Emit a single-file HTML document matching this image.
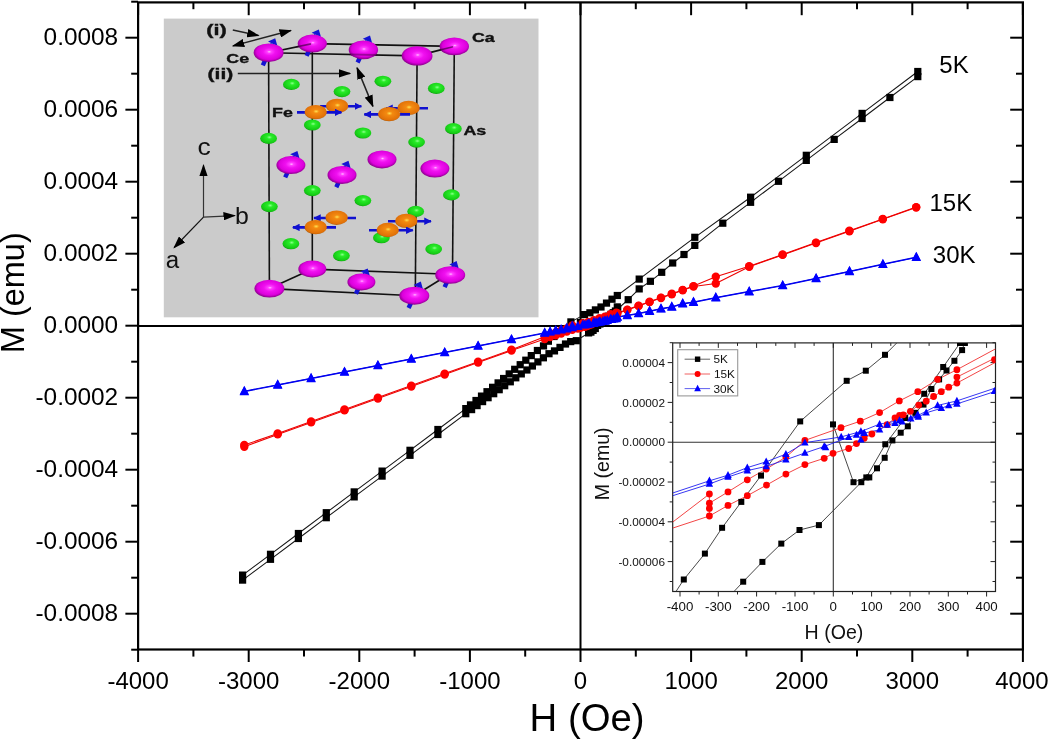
<!DOCTYPE html><html><head><meta charset="utf-8"><style>html,body{margin:0;padding:0;background:#fff;}svg{display:block;will-change:transform;}</style></head><body>
<svg width="1050" height="740" viewBox="0 0 1050 740">
<rect width="1050" height="740" fill="#fff"/>
<defs>
<radialGradient id="gm" cx="0.52" cy="0.45" r="0.58"><stop offset="0" stop-color="#ffc0ff"/><stop offset="0.12" stop-color="#ff40ff"/><stop offset="0.35" stop-color="#f010f0"/><stop offset="0.72" stop-color="#dc00dc"/><stop offset="0.86" stop-color="#a800a8"/><stop offset="1" stop-color="#780078"/></radialGradient>
<radialGradient id="gg" cx="0.55" cy="0.4" r="0.62"><stop offset="0" stop-color="#90ff90"/><stop offset="0.25" stop-color="#28ec28"/><stop offset="0.85" stop-color="#14c814"/><stop offset="1" stop-color="#0a8a0a"/></radialGradient>
<radialGradient id="go" cx="0.52" cy="0.45" r="0.6"><stop offset="0" stop-color="#ffe050"/><stop offset="0.22" stop-color="#f48a10"/><stop offset="0.8" stop-color="#e07008"/><stop offset="1" stop-color="#8a4a00"/></radialGradient>
<marker id="ah" viewBox="0 0 10 10" preserveAspectRatio="none" refX="9" refY="5" markerWidth="12.5" markerHeight="8.5" markerUnits="userSpaceOnUse" orient="auto-start-reverse"><path d="M0,0 L10,5 L0,10 z" fill="#000"/></marker>
<marker id="ahb" viewBox="0 0 10 10" preserveAspectRatio="none" refX="9" refY="5" markerWidth="7.5" markerHeight="7.5" markerUnits="userSpaceOnUse" orient="auto-start-reverse"><path d="M0,0 L10,5 L0,10 z" fill="#1010d0"/></marker>
<marker id="ahs" viewBox="0 0 10 10" preserveAspectRatio="none" refX="8" refY="5" markerWidth="5.5" markerHeight="11" markerUnits="userSpaceOnUse" orient="auto"><path d="M0,0 L10,5 L0,10 z" fill="#1818d8"/></marker>
</defs>
<rect x="163.8" y="18.6" width="374.7" height="298.7" fill="#cbcbcb"/>
<line x1="268.6" y1="52.7" x2="269.4" y2="288.6" stroke="#111" stroke-width="1.6"/>
<line x1="312.3" y1="43.6" x2="312.3" y2="269.1" stroke="#111" stroke-width="1.6"/>
<line x1="417.1" y1="55.9" x2="415.3" y2="295.7" stroke="#111" stroke-width="1.6"/>
<line x1="454.3" y1="46.4" x2="452.5" y2="274.3" stroke="#111" stroke-width="1.6"/>
<line x1="268.6" y1="52.7" x2="312.3" y2="43.6" stroke="#111" stroke-width="1.6"/>
<line x1="312.3" y1="43.6" x2="454.3" y2="46.4" stroke="#111" stroke-width="1.6"/>
<line x1="268.6" y1="52.7" x2="417.1" y2="55.9" stroke="#111" stroke-width="1.6"/>
<line x1="417.1" y1="55.9" x2="454.3" y2="46.4" stroke="#111" stroke-width="1.6"/>
<line x1="269.4" y1="288.6" x2="312.3" y2="269.1" stroke="#111" stroke-width="1.6"/>
<line x1="312.3" y1="269.1" x2="450" y2="274.3" stroke="#111" stroke-width="1.6"/>
<line x1="269.4" y1="288.6" x2="414.3" y2="295.7" stroke="#111" stroke-width="1.6"/>
<line x1="414.3" y1="295.7" x2="449.1" y2="274.3" stroke="#111" stroke-width="1.6"/>
<line x1="232.8" y1="30.1" x2="258.4" y2="35.5" stroke="#222" stroke-width="1.5" marker-end="url(#ah)"/>
<line x1="233" y1="45.9" x2="290.8" y2="30.5" stroke="#222" stroke-width="1.5" marker-start="url(#ah)" marker-end="url(#ah)"/>
<line x1="237.8" y1="73.4" x2="350" y2="73.4" stroke="#222" stroke-width="1.5" marker-end="url(#ah)"/>
<line x1="357.1" y1="67.9" x2="372.9" y2="106.4" stroke="#222" stroke-width="1.5" marker-start="url(#ah)" marker-end="url(#ah)"/>
<line x1="203.5" y1="217.2" x2="203.5" y2="165.2" stroke="#333" stroke-width="1.2" marker-end="url(#ah)"/>
<line x1="203.5" y1="217.2" x2="234.7" y2="215.6" stroke="#333" stroke-width="1.2" marker-end="url(#ah)"/>
<line x1="203.5" y1="217.2" x2="174.2" y2="247.5" stroke="#111" stroke-width="1.2" marker-end="url(#ah)"/>
<line x1="306.6" y1="55.9" x2="316.3" y2="35.0" stroke="#1414d4" stroke-width="4.4"/>
<path d="M321.0,37.1 L318.8,29.5 L311.6,32.8 Z" fill="#1414d4"/>
<ellipse cx="312.3" cy="43.6" rx="14.6" ry="9" fill="url(#gm)"/>
<ellipse cx="454.3" cy="46.4" rx="14.7" ry="8.9" fill="url(#gm)"/>
<line x1="357.6" y1="62.5" x2="367.5" y2="41.0" stroke="#1414d4" stroke-width="4.4"/>
<path d="M372.2,43.2 L370.0,35.5 L362.8,38.8 Z" fill="#1414d4"/>
<ellipse cx="363.4" cy="49.9" rx="14.7" ry="9.3" fill="url(#gm)"/>
<line x1="262.8" y1="65.3" x2="272.7" y2="43.8" stroke="#1414d4" stroke-width="4.4"/>
<path d="M277.4,46.0 L275.2,38.3 L268.0,41.6 Z" fill="#1414d4"/>
<ellipse cx="268.6" cy="52.7" rx="15" ry="9.3" fill="url(#gm)"/>
<ellipse cx="417.1" cy="55.9" rx="15.4" ry="9.7" fill="url(#gm)"/>
<ellipse cx="382.9" cy="81.3" rx="8.4" ry="5.6" fill="url(#gg)"/>
<ellipse cx="291.4" cy="84.4" rx="8.4" ry="5.6" fill="url(#gg)"/>
<ellipse cx="436.3" cy="88.4" rx="8.4" ry="5.6" fill="url(#gg)"/>
<ellipse cx="342" cy="91.6" rx="8.4" ry="5.6" fill="url(#gg)"/>
<ellipse cx="312.3" cy="125" rx="8.4" ry="5.6" fill="url(#gg)"/>
<ellipse cx="453.4" cy="128.7" rx="8.4" ry="5.6" fill="url(#gg)"/>
<ellipse cx="362.9" cy="133" rx="8.4" ry="5.6" fill="url(#gg)"/>
<ellipse cx="268.6" cy="138.4" rx="8.4" ry="5.6" fill="url(#gg)"/>
<ellipse cx="416.6" cy="142.1" rx="8.4" ry="5.6" fill="url(#gg)"/>
<ellipse cx="382" cy="159.4" rx="14.5" ry="9" fill="url(#gm)"/>
<line x1="285.2" y1="177.4" x2="294.9" y2="156.5" stroke="#1414d4" stroke-width="4.4"/>
<path d="M299.6,158.6 L297.4,151.0 L290.2,154.3 Z" fill="#1414d4"/>
<ellipse cx="290.9" cy="165.1" rx="14.5" ry="9" fill="url(#gm)"/>
<ellipse cx="434.9" cy="168.6" rx="14.5" ry="9" fill="url(#gm)"/>
<line x1="336.3" y1="187.2" x2="346.0" y2="166.3" stroke="#1414d4" stroke-width="4.4"/>
<path d="M350.7,168.4 L348.5,160.8 L341.3,164.1 Z" fill="#1414d4"/>
<ellipse cx="342" cy="174.9" rx="14.5" ry="9" fill="url(#gm)"/>
<ellipse cx="312.3" cy="190.6" rx="8.4" ry="5.6" fill="url(#gg)"/>
<ellipse cx="451.4" cy="194.9" rx="8.4" ry="5.6" fill="url(#gg)"/>
<ellipse cx="362.9" cy="200.6" rx="8.4" ry="5.6" fill="url(#gg)"/>
<ellipse cx="269.4" cy="206.6" rx="8.4" ry="5.6" fill="url(#gg)"/>
<ellipse cx="415.7" cy="211.4" rx="8.4" ry="5.6" fill="url(#gg)"/>
<ellipse cx="381.4" cy="237.7" rx="8.4" ry="5.6" fill="url(#gg)"/>
<ellipse cx="290.9" cy="243.7" rx="8.4" ry="5.6" fill="url(#gg)"/>
<ellipse cx="433.7" cy="249.1" rx="8.4" ry="5.6" fill="url(#gg)"/>
<ellipse cx="341.4" cy="255.7" rx="8.4" ry="5.6" fill="url(#gg)"/>
<ellipse cx="312.3" cy="269.1" rx="14" ry="8.5" fill="url(#gm)"/>
<line x1="444.6" y1="287.1" x2="454.1" y2="266.5" stroke="#1414d4" stroke-width="4.4"/>
<path d="M458.8,268.7 L456.6,261.1 L449.4,264.4 Z" fill="#1414d4"/>
<ellipse cx="450.2" cy="275" rx="15" ry="8.8" fill="url(#gm)"/>
<line x1="355.9" y1="293.8" x2="365.2" y2="273.8" stroke="#1414d4" stroke-width="4.4"/>
<path d="M369.9,276.0 L367.7,268.4 L360.4,271.6 Z" fill="#1414d4"/>
<ellipse cx="361.4" cy="282" rx="14" ry="8.5" fill="url(#gm)"/>
<ellipse cx="269.4" cy="288.6" rx="15" ry="8.9" fill="url(#gm)"/>
<line x1="408.6" y1="308.0" x2="418.3" y2="287.1" stroke="#1414d4" stroke-width="4.4"/>
<path d="M423.0,289.2 L420.8,281.6 L413.6,284.9 Z" fill="#1414d4"/>
<ellipse cx="414.3" cy="295.7" rx="15" ry="9" fill="url(#gm)"/>
<line x1="320" y1="106.2" x2="361.4" y2="106.2" stroke="#1010d0" stroke-width="2.6" marker-end="url(#ahb)"/>
<ellipse cx="337.1" cy="105.9" rx="11.2" ry="7.2" fill="url(#go)"/>
<line x1="428" y1="108.2" x2="386" y2="108.2" stroke="#1010d0" stroke-width="2.6" marker-end="url(#ahb)"/>
<ellipse cx="408.6" cy="107.9" rx="11.2" ry="7.2" fill="url(#go)"/>
<line x1="297" y1="112.39999999999999" x2="341.4" y2="112.39999999999999" stroke="#1010d0" stroke-width="2.6" marker-end="url(#ahb)"/>
<ellipse cx="315.7" cy="112.1" rx="11.2" ry="7.2" fill="url(#go)"/>
<line x1="410" y1="114.39999999999999" x2="364.3" y2="114.39999999999999" stroke="#1010d0" stroke-width="2.6" marker-end="url(#ahb)"/>
<ellipse cx="389.1" cy="114.1" rx="11.2" ry="7.2" fill="url(#go)"/>
<line x1="356" y1="218.0" x2="314" y2="218.0" stroke="#1010d0" stroke-width="2.6" marker-end="url(#ahb)"/>
<ellipse cx="336.6" cy="217.7" rx="11.2" ry="7.2" fill="url(#go)"/>
<line x1="388" y1="221.20000000000002" x2="431" y2="221.20000000000002" stroke="#1010d0" stroke-width="2.6" marker-end="url(#ahb)"/>
<ellipse cx="406.3" cy="220.9" rx="11.2" ry="7.2" fill="url(#go)"/>
<line x1="336" y1="227.4" x2="292.9" y2="227.4" stroke="#1010d0" stroke-width="2.6" marker-end="url(#ahb)"/>
<ellipse cx="315.7" cy="227.1" rx="11.2" ry="7.2" fill="url(#go)"/>
<line x1="369" y1="230.3" x2="412.8" y2="230.3" stroke="#1010d0" stroke-width="2.6" marker-end="url(#ahb)"/>
<ellipse cx="387.7" cy="230" rx="11.2" ry="7.2" fill="url(#go)"/>
<line x1="349.5" y1="54.4" x2="377.5" y2="55.0" stroke="#300030" stroke-width="1.8" stroke-opacity="0.4"/>
<line x1="296" y1="47" x2="311" y2="43.9" stroke="#300030" stroke-width="1.6" stroke-opacity="0.6"/>
<line x1="440" y1="50" x2="453" y2="46.7" stroke="#300030" stroke-width="1.6" stroke-opacity="0.6"/>
<text transform="translate(206.3,35.0) scale(1.5,1)" font-family="Liberation Sans, sans-serif" font-weight="bold" font-size="14.5" fill="#111" stroke="#111" stroke-width="0.35">(i)</text>
<text transform="translate(207.6,78.6) scale(1.45,1)" font-family="Liberation Sans, sans-serif" font-weight="bold" font-size="14.5" fill="#111" stroke="#111" stroke-width="0.35">(ii)</text>
<text transform="translate(226.3,62.9) scale(1.45,1)" font-family="Liberation Sans, sans-serif" font-weight="bold" font-size="12.3" fill="#111" stroke="#111" stroke-width="0.35">Ce</text>
<text transform="translate(272.0,117.2) scale(1.45,1)" font-family="Liberation Sans, sans-serif" font-weight="bold" font-size="12.3" fill="#111" stroke="#111" stroke-width="0.35">Fe</text>
<text transform="translate(472.0,42.1) scale(1.45,1)" font-family="Liberation Sans, sans-serif" font-weight="bold" font-size="12.3" fill="#111" stroke="#111" stroke-width="0.35">Ca</text>
<text transform="translate(463.4,135.0) scale(1.45,1)" font-family="Liberation Sans, sans-serif" font-weight="bold" font-size="12.3" fill="#111" stroke="#111" stroke-width="0.35">As</text>
<text transform="translate(197.5,154.8) scale(1.15,1)" font-family="Liberation Sans, sans-serif" font-size="23" fill="#111">c</text>
<text transform="translate(235.0,223.8) scale(1.08,1)" font-family="Liberation Sans, sans-serif" font-size="23" fill="#111">b</text>
<text transform="translate(165.8,268.3) scale(1.05,1)" font-family="Liberation Sans, sans-serif" font-size="23" fill="#111">a</text>
<line x1="580.5" y1="2.4" x2="580.5" y2="649.5" stroke="#000" stroke-width="2"/>
<line x1="138.1" y1="325.9" x2="1022.9" y2="325.9" stroke="#000" stroke-width="2"/>
<line x1="138.1" y1="649.5" x2="138.1" y2="662" stroke="#000" stroke-width="2"/>
<line x1="138.1" y1="2.4" x2="138.1" y2="15.2" stroke="#000" stroke-width="2"/>
<line x1="193.4" y1="649.5" x2="193.4" y2="656.6" stroke="#000" stroke-width="2"/>
<line x1="193.4" y1="2.4" x2="193.4" y2="9.2" stroke="#000" stroke-width="2"/>
<line x1="248.7" y1="649.5" x2="248.7" y2="662" stroke="#000" stroke-width="2"/>
<line x1="248.7" y1="2.4" x2="248.7" y2="15.2" stroke="#000" stroke-width="2"/>
<line x1="304.0" y1="649.5" x2="304.0" y2="656.6" stroke="#000" stroke-width="2"/>
<line x1="304.0" y1="2.4" x2="304.0" y2="9.2" stroke="#000" stroke-width="2"/>
<line x1="359.3" y1="649.5" x2="359.3" y2="662" stroke="#000" stroke-width="2"/>
<line x1="359.3" y1="2.4" x2="359.3" y2="15.2" stroke="#000" stroke-width="2"/>
<line x1="414.6" y1="649.5" x2="414.6" y2="656.6" stroke="#000" stroke-width="2"/>
<line x1="414.6" y1="2.4" x2="414.6" y2="9.2" stroke="#000" stroke-width="2"/>
<line x1="469.9" y1="649.5" x2="469.9" y2="662" stroke="#000" stroke-width="2"/>
<line x1="469.9" y1="2.4" x2="469.9" y2="15.2" stroke="#000" stroke-width="2"/>
<line x1="525.2" y1="649.5" x2="525.2" y2="656.6" stroke="#000" stroke-width="2"/>
<line x1="525.2" y1="2.4" x2="525.2" y2="9.2" stroke="#000" stroke-width="2"/>
<line x1="580.5" y1="649.5" x2="580.5" y2="662" stroke="#000" stroke-width="2"/>
<line x1="580.5" y1="2.4" x2="580.5" y2="15.2" stroke="#000" stroke-width="2"/>
<line x1="635.8" y1="649.5" x2="635.8" y2="656.6" stroke="#000" stroke-width="2"/>
<line x1="635.8" y1="2.4" x2="635.8" y2="9.2" stroke="#000" stroke-width="2"/>
<line x1="691.1" y1="649.5" x2="691.1" y2="662" stroke="#000" stroke-width="2"/>
<line x1="691.1" y1="2.4" x2="691.1" y2="15.2" stroke="#000" stroke-width="2"/>
<line x1="746.4" y1="649.5" x2="746.4" y2="656.6" stroke="#000" stroke-width="2"/>
<line x1="746.4" y1="2.4" x2="746.4" y2="9.2" stroke="#000" stroke-width="2"/>
<line x1="801.7" y1="649.5" x2="801.7" y2="662" stroke="#000" stroke-width="2"/>
<line x1="801.7" y1="2.4" x2="801.7" y2="15.2" stroke="#000" stroke-width="2"/>
<line x1="857.0" y1="649.5" x2="857.0" y2="656.6" stroke="#000" stroke-width="2"/>
<line x1="857.0" y1="2.4" x2="857.0" y2="9.2" stroke="#000" stroke-width="2"/>
<line x1="912.3" y1="649.5" x2="912.3" y2="662" stroke="#000" stroke-width="2"/>
<line x1="912.3" y1="2.4" x2="912.3" y2="15.2" stroke="#000" stroke-width="2"/>
<line x1="967.6" y1="649.5" x2="967.6" y2="656.6" stroke="#000" stroke-width="2"/>
<line x1="967.6" y1="2.4" x2="967.6" y2="9.2" stroke="#000" stroke-width="2"/>
<line x1="1022.9" y1="649.5" x2="1022.9" y2="662" stroke="#000" stroke-width="2"/>
<line x1="1022.9" y1="2.4" x2="1022.9" y2="15.2" stroke="#000" stroke-width="2"/>
<line x1="138.1" y1="649.7" x2="131.2" y2="649.7" stroke="#000" stroke-width="2"/>
<line x1="138.1" y1="613.7" x2="125.4" y2="613.7" stroke="#000" stroke-width="2"/>
<line x1="1022.9" y1="613.7" x2="1010.2" y2="613.7" stroke="#000" stroke-width="2"/>
<line x1="138.1" y1="577.7" x2="131.2" y2="577.7" stroke="#000" stroke-width="2"/>
<line x1="1022.9" y1="577.7" x2="1016" y2="577.7" stroke="#000" stroke-width="2"/>
<line x1="138.1" y1="541.7" x2="125.4" y2="541.7" stroke="#000" stroke-width="2"/>
<line x1="1022.9" y1="541.7" x2="1010.2" y2="541.7" stroke="#000" stroke-width="2"/>
<line x1="138.1" y1="505.7" x2="131.2" y2="505.7" stroke="#000" stroke-width="2"/>
<line x1="1022.9" y1="505.7" x2="1016" y2="505.7" stroke="#000" stroke-width="2"/>
<line x1="138.1" y1="469.7" x2="125.4" y2="469.7" stroke="#000" stroke-width="2"/>
<line x1="1022.9" y1="469.7" x2="1010.2" y2="469.7" stroke="#000" stroke-width="2"/>
<line x1="138.1" y1="433.7" x2="131.2" y2="433.7" stroke="#000" stroke-width="2"/>
<line x1="1022.9" y1="433.7" x2="1016" y2="433.7" stroke="#000" stroke-width="2"/>
<line x1="138.1" y1="397.7" x2="125.4" y2="397.7" stroke="#000" stroke-width="2"/>
<line x1="1022.9" y1="397.7" x2="1010.2" y2="397.7" stroke="#000" stroke-width="2"/>
<line x1="138.1" y1="361.7" x2="131.2" y2="361.7" stroke="#000" stroke-width="2"/>
<line x1="1022.9" y1="361.7" x2="1016" y2="361.7" stroke="#000" stroke-width="2"/>
<line x1="138.1" y1="325.7" x2="125.4" y2="325.7" stroke="#000" stroke-width="2"/>
<line x1="1022.9" y1="325.7" x2="1010.2" y2="325.7" stroke="#000" stroke-width="2"/>
<line x1="138.1" y1="289.7" x2="131.2" y2="289.7" stroke="#000" stroke-width="2"/>
<line x1="1022.9" y1="289.7" x2="1016" y2="289.7" stroke="#000" stroke-width="2"/>
<line x1="138.1" y1="253.7" x2="125.4" y2="253.7" stroke="#000" stroke-width="2"/>
<line x1="1022.9" y1="253.7" x2="1010.2" y2="253.7" stroke="#000" stroke-width="2"/>
<line x1="138.1" y1="217.7" x2="131.2" y2="217.7" stroke="#000" stroke-width="2"/>
<line x1="1022.9" y1="217.7" x2="1016" y2="217.7" stroke="#000" stroke-width="2"/>
<line x1="138.1" y1="181.7" x2="125.4" y2="181.7" stroke="#000" stroke-width="2"/>
<line x1="1022.9" y1="181.7" x2="1010.2" y2="181.7" stroke="#000" stroke-width="2"/>
<line x1="138.1" y1="145.7" x2="131.2" y2="145.7" stroke="#000" stroke-width="2"/>
<line x1="1022.9" y1="145.7" x2="1016" y2="145.7" stroke="#000" stroke-width="2"/>
<line x1="138.1" y1="109.7" x2="125.4" y2="109.7" stroke="#000" stroke-width="2"/>
<line x1="1022.9" y1="109.7" x2="1010.2" y2="109.7" stroke="#000" stroke-width="2"/>
<line x1="138.1" y1="73.7" x2="131.2" y2="73.7" stroke="#000" stroke-width="2"/>
<line x1="1022.9" y1="73.7" x2="1016" y2="73.7" stroke="#000" stroke-width="2"/>
<line x1="138.1" y1="37.7" x2="125.4" y2="37.7" stroke="#000" stroke-width="2"/>
<line x1="1022.9" y1="37.7" x2="1010.2" y2="37.7" stroke="#000" stroke-width="2"/>
<line x1="138.1" y1="1.7" x2="131.2" y2="1.7" stroke="#000" stroke-width="2"/>
<rect x="138.1" y="2.4" width="884.8" height="647.1" fill="none" stroke="#000" stroke-width="2.2"/>
<text x="118.2" y="620.7" font-family="Liberation Sans, sans-serif" font-size="24.4" text-anchor="end">-0.0008</text>
<text x="118.2" y="548.7" font-family="Liberation Sans, sans-serif" font-size="24.4" text-anchor="end">-0.0006</text>
<text x="118.2" y="476.7" font-family="Liberation Sans, sans-serif" font-size="24.4" text-anchor="end">-0.0004</text>
<text x="118.2" y="404.7" font-family="Liberation Sans, sans-serif" font-size="24.4" text-anchor="end">-0.0002</text>
<text x="118.2" y="332.7" font-family="Liberation Sans, sans-serif" font-size="24.4" text-anchor="end">0.0000</text>
<text x="118.2" y="260.7" font-family="Liberation Sans, sans-serif" font-size="24.4" text-anchor="end">0.0002</text>
<text x="118.2" y="188.7" font-family="Liberation Sans, sans-serif" font-size="24.4" text-anchor="end">0.0004</text>
<text x="118.2" y="116.7" font-family="Liberation Sans, sans-serif" font-size="24.4" text-anchor="end">0.0006</text>
<text x="118.2" y="44.7" font-family="Liberation Sans, sans-serif" font-size="24.4" text-anchor="end">0.0008</text>
<text x="138.1" y="689.2" font-family="Liberation Sans, sans-serif" font-size="24" text-anchor="middle">-4000</text>
<text x="248.7" y="689.2" font-family="Liberation Sans, sans-serif" font-size="24" text-anchor="middle">-3000</text>
<text x="359.3" y="689.2" font-family="Liberation Sans, sans-serif" font-size="24" text-anchor="middle">-2000</text>
<text x="469.9" y="689.2" font-family="Liberation Sans, sans-serif" font-size="24" text-anchor="middle">-1000</text>
<text x="580.5" y="689.2" font-family="Liberation Sans, sans-serif" font-size="24" text-anchor="middle">0</text>
<text x="691.1" y="689.2" font-family="Liberation Sans, sans-serif" font-size="24" text-anchor="middle">1000</text>
<text x="801.7" y="689.2" font-family="Liberation Sans, sans-serif" font-size="24" text-anchor="middle">2000</text>
<text x="912.3" y="689.2" font-family="Liberation Sans, sans-serif" font-size="24" text-anchor="middle">3000</text>
<text x="1021.9" y="689.2" font-family="Liberation Sans, sans-serif" font-size="24" text-anchor="middle">4000</text>
<text x="529.6" y="731" font-family="Liberation Sans, sans-serif" font-size="38.3">H (Oe)</text>
<text transform="translate(24.3,353.2) rotate(-90)" font-family="Liberation Sans, sans-serif" font-size="32.5">M (emu)</text>
<text x="939.3" y="73.3" font-family="Liberation Sans, sans-serif" font-size="24">5K</text>
<text x="929.5" y="211.3" font-family="Liberation Sans, sans-serif" font-size="24">15K</text>
<text x="932.8" y="262.9" font-family="Liberation Sans, sans-serif" font-size="24">30K</text>
<polyline points="242.6,575.1 270.5,554.3 298.4,533.5 326.3,512.7 354.2,491.9 382.1,471.1 410.0,450.3 437.9,429.5 465.8,408.6 470.5,404.9 476.0,400.5 481.5,396.1 487.0,391.7 492.6,387.3 498.1,382.9 503.6,378.5 509.2,373.9 514.7,369.3 520.2,364.7 525.8,360.2 531.3,355.6 537.4,350.5 543.5,345.9 548.4,341.2 554.0,336.5 559.6,331.7 570.9,321.9 584.4,314.6 589.9,312.8 595.4,309.9 601.0,307.0 606.5,303.1 612.0,299.2 617.3,295.5 639.2,279.1 694.8,237.3 750.6,197.2 806.3,155.3 862.1,113.4 917.8,71.5" fill="none" stroke="#151515" stroke-width="1.05" stroke-linejoin="round"/>
<polyline points="242.6,580.1 270.5,559.3 298.4,538.5 326.3,517.7 354.2,496.9 382.1,476.1 410.0,455.3 437.9,434.5 465.8,413.7 471.6,409.6 477.1,405.6 482.6,401.6 488.1,397.7 493.7,393.7 499.2,389.7 504.7,385.7 510.3,381.8 515.8,377.8 521.3,373.9 526.9,370.0 532.4,366.0 537.9,361.9 543.4,357.8 549.0,353.7 554.5,350.9 560.0,347.4 565.5,344.0 570.7,341.6 576.3,340.7 588.6,332.9 590.9,332.1 593.1,330.4 595.3,328.5 597.6,325.4 599.9,324.0 602.0,322.8 604.2,320.4 606.5,318.9 608.8,316.1 611.0,314.3 613.2,312.7 615.4,311.0 617.3,306.9 617.7,309.0 628.2,299.7 639.2,288.9 650.4,281.3 661.7,272.3 672.7,263.0 684.0,254.5 694.8,245.4 722.8,223.2 750.6,202.3 778.5,181.3 806.3,160.4 834.2,139.4 862.1,118.5 889.9,97.5 917.8,76.6" fill="none" stroke="#151515" stroke-width="1.05" stroke-linejoin="round"/>
<polyline points="580.4,322.5 586.3,332.9 590.0,332.1 595.5,326.1 601.2,321.3 606.7,316.9 612.2,312.1" fill="none" stroke="#151515" stroke-width="1.0" stroke-linejoin="round"/>
<polyline points="244.3,445.0 277.7,433.5 311.1,421.5 344.5,409.5 377.9,397.6 411.3,385.6 444.7,373.6 478.1,361.7 511.5,349.7 544.7,336.7 550.1,334.7 555.7,332.5 561.1,330.5 566.8,328.4 572.3,325.4 582.7,323.1 588.3,321.9 593.9,320.3 599.5,318.2 604.9,316.6 610.6,314.3 616.2,312.6 617.3,313.1 627.3,309.6 638.6,305.6 649.6,301.7 661.0,297.6 671.8,293.8 682.7,289.9 693.5,286.1 715.8,276.8 749.2,266.3 782.6,254.5 816.0,242.6 849.4,230.8 882.8,218.9 916.2,207.1" fill="none" stroke="#e00" stroke-width="1.1" stroke-linejoin="round"/>
<polyline points="244.3,446.8 277.7,434.4 311.1,422.4 344.5,410.4 377.9,398.5 411.3,386.5 444.7,374.5 478.1,362.6 511.5,350.6 544.7,339.1 550.1,337.1 555.7,335.4 561.2,333.5 566.8,331.5 572.3,329.8 577.9,328.6 580.4,327.7 584.9,326.8 587.2,326.0 589.4,325.0 591.6,324.2 596.0,322.5 598.3,321.3 599.6,320.9 600.7,320.7 602.7,320.1 605.1,319.0 607.3,318.3 609.4,317.4 611.7,316.6 613.8,315.8 616.2,313.9 616.2,315.0 617.3,313.5 627.3,310.0 638.6,306.0 649.6,302.1 661.0,298.0 671.8,294.2 682.7,290.3 693.5,286.5 715.8,283.5 749.2,266.7 782.6,254.9 816.0,243.0 849.4,231.2 882.8,219.3 916.2,207.5" fill="none" stroke="#e00" stroke-width="1.1" stroke-linejoin="round"/>
<polyline points="244.3,391.2 277.7,384.7 311.1,378.2 344.5,371.7 377.9,365.2 411.3,358.7 444.7,352.2 478.1,345.7 511.5,339.2 544.7,332.7 550.1,331.7 555.7,330.3 561.1,329.2 566.8,327.9 572.3,325.8 582.8,324.7 588.5,323.8 593.9,322.4 599.6,321.8 605.0,320.9 610.6,319.0 616.2,318.2 617.3,316.8 627.3,315.2 638.6,313.3 649.6,311.0 661.0,308.6 671.8,306.7 682.7,303.5 693.5,302.0 715.8,297.5 749.2,291.4 782.7,285.3 816.1,278.2 849.5,271.2 882.9,264.1 916.3,257.1" fill="none" stroke="#00e" stroke-width="1.1" stroke-linejoin="round"/>
<polyline points="244.3,391.6 277.7,385.1 311.1,378.6 344.5,372.1 377.9,365.6 411.3,359.1 444.7,352.6 478.1,346.1 511.5,339.6 544.7,333.3 550.1,332.0 555.7,330.8 561.1,330.1 566.8,328.9 572.3,327.7 577.9,326.5 584.9,324.8 587.2,324.4 589.4,324.1 593.9,323.5 596.1,322.6 598.3,322.2 600.3,322.0 602.9,321.4 605.0,321.1 607.3,320.4 611.7,319.6 613.8,319.0 616.2,318.8 617.3,317.2 627.3,315.6 638.6,313.7 649.6,311.4 661.0,309.0 671.8,307.1 682.7,303.9 693.5,302.4 715.8,297.9 749.2,291.8 782.7,285.7 816.1,278.6 849.5,271.6 882.9,264.5 916.3,257.5" fill="none" stroke="#00e" stroke-width="1.1" stroke-linejoin="round"/>
<rect x="239.0" y="571.5" width="7.2" height="7.2" fill="#000"/>
<rect x="266.9" y="550.7" width="7.2" height="7.2" fill="#000"/>
<rect x="294.8" y="529.9" width="7.2" height="7.2" fill="#000"/>
<rect x="322.7" y="509.1" width="7.2" height="7.2" fill="#000"/>
<rect x="350.6" y="488.3" width="7.2" height="7.2" fill="#000"/>
<rect x="378.5" y="467.5" width="7.2" height="7.2" fill="#000"/>
<rect x="406.4" y="446.7" width="7.2" height="7.2" fill="#000"/>
<rect x="434.3" y="425.9" width="7.2" height="7.2" fill="#000"/>
<rect x="462.2" y="405.0" width="7.2" height="7.2" fill="#000"/>
<rect x="466.9" y="401.3" width="7.2" height="7.2" fill="#000"/>
<rect x="472.4" y="396.9" width="7.2" height="7.2" fill="#000"/>
<rect x="477.9" y="392.5" width="7.2" height="7.2" fill="#000"/>
<rect x="483.4" y="388.1" width="7.2" height="7.2" fill="#000"/>
<rect x="489.0" y="383.7" width="7.2" height="7.2" fill="#000"/>
<rect x="494.5" y="379.3" width="7.2" height="7.2" fill="#000"/>
<rect x="500.0" y="374.9" width="7.2" height="7.2" fill="#000"/>
<rect x="505.6" y="370.3" width="7.2" height="7.2" fill="#000"/>
<rect x="511.1" y="365.7" width="7.2" height="7.2" fill="#000"/>
<rect x="516.6" y="361.1" width="7.2" height="7.2" fill="#000"/>
<rect x="522.2" y="356.6" width="7.2" height="7.2" fill="#000"/>
<rect x="527.7" y="352.0" width="7.2" height="7.2" fill="#000"/>
<rect x="533.8" y="346.9" width="7.2" height="7.2" fill="#000"/>
<rect x="539.9" y="342.3" width="7.2" height="7.2" fill="#000"/>
<rect x="544.8" y="337.6" width="7.2" height="7.2" fill="#000"/>
<rect x="550.4" y="332.9" width="7.2" height="7.2" fill="#000"/>
<rect x="556.0" y="328.1" width="7.2" height="7.2" fill="#000"/>
<rect x="567.3" y="318.3" width="7.2" height="7.2" fill="#000"/>
<rect x="580.8" y="311.0" width="7.2" height="7.2" fill="#000"/>
<rect x="586.3" y="309.2" width="7.2" height="7.2" fill="#000"/>
<rect x="591.8" y="306.3" width="7.2" height="7.2" fill="#000"/>
<rect x="597.4" y="303.4" width="7.2" height="7.2" fill="#000"/>
<rect x="602.9" y="299.5" width="7.2" height="7.2" fill="#000"/>
<rect x="608.4" y="295.6" width="7.2" height="7.2" fill="#000"/>
<rect x="613.7" y="291.9" width="7.2" height="7.2" fill="#000"/>
<rect x="635.6" y="275.5" width="7.2" height="7.2" fill="#000"/>
<rect x="691.2" y="233.7" width="7.2" height="7.2" fill="#000"/>
<rect x="747.0" y="193.6" width="7.2" height="7.2" fill="#000"/>
<rect x="802.7" y="151.7" width="7.2" height="7.2" fill="#000"/>
<rect x="858.5" y="109.8" width="7.2" height="7.2" fill="#000"/>
<rect x="914.2" y="67.9" width="7.2" height="7.2" fill="#000"/>
<rect x="239.0" y="576.5" width="7.2" height="7.2" fill="#000"/>
<rect x="266.9" y="555.7" width="7.2" height="7.2" fill="#000"/>
<rect x="294.8" y="534.9" width="7.2" height="7.2" fill="#000"/>
<rect x="322.7" y="514.1" width="7.2" height="7.2" fill="#000"/>
<rect x="350.6" y="493.3" width="7.2" height="7.2" fill="#000"/>
<rect x="378.5" y="472.5" width="7.2" height="7.2" fill="#000"/>
<rect x="406.4" y="451.7" width="7.2" height="7.2" fill="#000"/>
<rect x="434.3" y="430.9" width="7.2" height="7.2" fill="#000"/>
<rect x="462.2" y="410.1" width="7.2" height="7.2" fill="#000"/>
<rect x="468.0" y="406.0" width="7.2" height="7.2" fill="#000"/>
<rect x="473.5" y="402.0" width="7.2" height="7.2" fill="#000"/>
<rect x="479.0" y="398.0" width="7.2" height="7.2" fill="#000"/>
<rect x="484.5" y="394.1" width="7.2" height="7.2" fill="#000"/>
<rect x="490.1" y="390.1" width="7.2" height="7.2" fill="#000"/>
<rect x="495.6" y="386.1" width="7.2" height="7.2" fill="#000"/>
<rect x="501.1" y="382.1" width="7.2" height="7.2" fill="#000"/>
<rect x="506.7" y="378.2" width="7.2" height="7.2" fill="#000"/>
<rect x="512.2" y="374.2" width="7.2" height="7.2" fill="#000"/>
<rect x="517.7" y="370.3" width="7.2" height="7.2" fill="#000"/>
<rect x="523.3" y="366.4" width="7.2" height="7.2" fill="#000"/>
<rect x="528.8" y="362.4" width="7.2" height="7.2" fill="#000"/>
<rect x="534.3" y="358.3" width="7.2" height="7.2" fill="#000"/>
<rect x="539.8" y="354.2" width="7.2" height="7.2" fill="#000"/>
<rect x="545.4" y="350.1" width="7.2" height="7.2" fill="#000"/>
<rect x="550.9" y="347.3" width="7.2" height="7.2" fill="#000"/>
<rect x="556.4" y="343.8" width="7.2" height="7.2" fill="#000"/>
<rect x="561.9" y="340.4" width="7.2" height="7.2" fill="#000"/>
<rect x="567.1" y="338.0" width="7.2" height="7.2" fill="#000"/>
<rect x="572.7" y="337.1" width="7.2" height="7.2" fill="#000"/>
<rect x="585.0" y="329.3" width="7.2" height="7.2" fill="#000"/>
<rect x="587.3" y="328.5" width="7.2" height="7.2" fill="#000"/>
<rect x="589.5" y="326.8" width="7.2" height="7.2" fill="#000"/>
<rect x="591.7" y="324.9" width="7.2" height="7.2" fill="#000"/>
<rect x="594.0" y="321.8" width="7.2" height="7.2" fill="#000"/>
<rect x="596.3" y="320.4" width="7.2" height="7.2" fill="#000"/>
<rect x="598.4" y="319.2" width="7.2" height="7.2" fill="#000"/>
<rect x="600.6" y="316.8" width="7.2" height="7.2" fill="#000"/>
<rect x="602.9" y="315.3" width="7.2" height="7.2" fill="#000"/>
<rect x="605.2" y="312.5" width="7.2" height="7.2" fill="#000"/>
<rect x="607.4" y="310.7" width="7.2" height="7.2" fill="#000"/>
<rect x="609.6" y="309.1" width="7.2" height="7.2" fill="#000"/>
<rect x="611.8" y="307.4" width="7.2" height="7.2" fill="#000"/>
<rect x="613.7" y="303.3" width="7.2" height="7.2" fill="#000"/>
<rect x="614.1" y="305.4" width="7.2" height="7.2" fill="#000"/>
<rect x="624.6" y="296.1" width="7.2" height="7.2" fill="#000"/>
<rect x="635.6" y="285.3" width="7.2" height="7.2" fill="#000"/>
<rect x="646.8" y="277.7" width="7.2" height="7.2" fill="#000"/>
<rect x="658.1" y="268.7" width="7.2" height="7.2" fill="#000"/>
<rect x="669.1" y="259.4" width="7.2" height="7.2" fill="#000"/>
<rect x="680.4" y="250.9" width="7.2" height="7.2" fill="#000"/>
<rect x="691.2" y="241.8" width="7.2" height="7.2" fill="#000"/>
<rect x="719.2" y="219.6" width="7.2" height="7.2" fill="#000"/>
<rect x="747.0" y="198.7" width="7.2" height="7.2" fill="#000"/>
<rect x="774.9" y="177.7" width="7.2" height="7.2" fill="#000"/>
<rect x="802.7" y="156.8" width="7.2" height="7.2" fill="#000"/>
<rect x="830.6" y="135.8" width="7.2" height="7.2" fill="#000"/>
<rect x="858.5" y="114.9" width="7.2" height="7.2" fill="#000"/>
<rect x="886.3" y="93.9" width="7.2" height="7.2" fill="#000"/>
<rect x="914.2" y="73.0" width="7.2" height="7.2" fill="#000"/>
<rect x="576.8" y="318.9" width="7.2" height="7.2" fill="#000"/>
<circle cx="244.3" cy="445.0" r="4.2" fill="#ff0000"/>
<circle cx="277.7" cy="433.5" r="4.2" fill="#ff0000"/>
<circle cx="311.1" cy="421.5" r="4.2" fill="#ff0000"/>
<circle cx="344.5" cy="409.5" r="4.2" fill="#ff0000"/>
<circle cx="377.9" cy="397.6" r="4.2" fill="#ff0000"/>
<circle cx="411.3" cy="385.6" r="4.2" fill="#ff0000"/>
<circle cx="444.7" cy="373.6" r="4.2" fill="#ff0000"/>
<circle cx="478.1" cy="361.7" r="4.2" fill="#ff0000"/>
<circle cx="511.5" cy="349.7" r="4.2" fill="#ff0000"/>
<circle cx="544.7" cy="336.7" r="4.2" fill="#ff0000"/>
<circle cx="550.1" cy="334.7" r="4.2" fill="#ff0000"/>
<circle cx="555.7" cy="332.5" r="4.2" fill="#ff0000"/>
<circle cx="561.1" cy="330.5" r="4.2" fill="#ff0000"/>
<circle cx="566.8" cy="328.4" r="4.2" fill="#ff0000"/>
<circle cx="572.3" cy="325.4" r="4.2" fill="#ff0000"/>
<circle cx="582.7" cy="323.1" r="4.2" fill="#ff0000"/>
<circle cx="588.3" cy="321.9" r="4.2" fill="#ff0000"/>
<circle cx="593.9" cy="320.3" r="4.2" fill="#ff0000"/>
<circle cx="599.5" cy="318.2" r="4.2" fill="#ff0000"/>
<circle cx="604.9" cy="316.6" r="4.2" fill="#ff0000"/>
<circle cx="610.6" cy="314.3" r="4.2" fill="#ff0000"/>
<circle cx="616.2" cy="312.6" r="4.2" fill="#ff0000"/>
<circle cx="617.3" cy="313.1" r="4.2" fill="#ff0000"/>
<circle cx="627.3" cy="309.6" r="4.2" fill="#ff0000"/>
<circle cx="638.6" cy="305.6" r="4.2" fill="#ff0000"/>
<circle cx="649.6" cy="301.7" r="4.2" fill="#ff0000"/>
<circle cx="661.0" cy="297.6" r="4.2" fill="#ff0000"/>
<circle cx="671.8" cy="293.8" r="4.2" fill="#ff0000"/>
<circle cx="682.7" cy="289.9" r="4.2" fill="#ff0000"/>
<circle cx="693.5" cy="286.1" r="4.2" fill="#ff0000"/>
<circle cx="715.8" cy="276.8" r="4.2" fill="#ff0000"/>
<circle cx="749.2" cy="266.3" r="4.2" fill="#ff0000"/>
<circle cx="782.6" cy="254.5" r="4.2" fill="#ff0000"/>
<circle cx="816.0" cy="242.6" r="4.2" fill="#ff0000"/>
<circle cx="849.4" cy="230.8" r="4.2" fill="#ff0000"/>
<circle cx="882.8" cy="218.9" r="4.2" fill="#ff0000"/>
<circle cx="916.2" cy="207.1" r="4.2" fill="#ff0000"/>
<circle cx="244.3" cy="446.8" r="4.2" fill="#ff0000"/>
<circle cx="277.7" cy="434.4" r="4.2" fill="#ff0000"/>
<circle cx="311.1" cy="422.4" r="4.2" fill="#ff0000"/>
<circle cx="344.5" cy="410.4" r="4.2" fill="#ff0000"/>
<circle cx="377.9" cy="398.5" r="4.2" fill="#ff0000"/>
<circle cx="411.3" cy="386.5" r="4.2" fill="#ff0000"/>
<circle cx="444.7" cy="374.5" r="4.2" fill="#ff0000"/>
<circle cx="478.1" cy="362.6" r="4.2" fill="#ff0000"/>
<circle cx="511.5" cy="350.6" r="4.2" fill="#ff0000"/>
<circle cx="544.7" cy="339.1" r="4.2" fill="#ff0000"/>
<circle cx="550.1" cy="337.1" r="4.2" fill="#ff0000"/>
<circle cx="555.7" cy="335.4" r="4.2" fill="#ff0000"/>
<circle cx="561.2" cy="333.5" r="4.2" fill="#ff0000"/>
<circle cx="566.8" cy="331.5" r="4.2" fill="#ff0000"/>
<circle cx="572.3" cy="329.8" r="4.2" fill="#ff0000"/>
<circle cx="577.9" cy="328.6" r="4.2" fill="#ff0000"/>
<circle cx="580.4" cy="327.7" r="4.2" fill="#ff0000"/>
<circle cx="584.9" cy="326.8" r="4.2" fill="#ff0000"/>
<circle cx="587.2" cy="326.0" r="4.2" fill="#ff0000"/>
<circle cx="589.4" cy="325.0" r="4.2" fill="#ff0000"/>
<circle cx="591.6" cy="324.2" r="4.2" fill="#ff0000"/>
<circle cx="596.0" cy="322.5" r="4.2" fill="#ff0000"/>
<circle cx="598.3" cy="321.3" r="4.2" fill="#ff0000"/>
<circle cx="599.6" cy="320.9" r="4.2" fill="#ff0000"/>
<circle cx="600.7" cy="320.7" r="4.2" fill="#ff0000"/>
<circle cx="602.7" cy="320.1" r="4.2" fill="#ff0000"/>
<circle cx="605.1" cy="319.0" r="4.2" fill="#ff0000"/>
<circle cx="607.3" cy="318.3" r="4.2" fill="#ff0000"/>
<circle cx="609.4" cy="317.4" r="4.2" fill="#ff0000"/>
<circle cx="611.7" cy="316.6" r="4.2" fill="#ff0000"/>
<circle cx="613.8" cy="315.8" r="4.2" fill="#ff0000"/>
<circle cx="616.2" cy="313.9" r="4.2" fill="#ff0000"/>
<circle cx="616.2" cy="315.0" r="4.2" fill="#ff0000"/>
<circle cx="617.3" cy="313.5" r="4.2" fill="#ff0000"/>
<circle cx="627.3" cy="310.0" r="4.2" fill="#ff0000"/>
<circle cx="638.6" cy="306.0" r="4.2" fill="#ff0000"/>
<circle cx="649.6" cy="302.1" r="4.2" fill="#ff0000"/>
<circle cx="661.0" cy="298.0" r="4.2" fill="#ff0000"/>
<circle cx="671.8" cy="294.2" r="4.2" fill="#ff0000"/>
<circle cx="682.7" cy="290.3" r="4.2" fill="#ff0000"/>
<circle cx="693.5" cy="286.5" r="4.2" fill="#ff0000"/>
<circle cx="715.8" cy="283.5" r="4.2" fill="#ff0000"/>
<circle cx="749.2" cy="266.7" r="4.2" fill="#ff0000"/>
<circle cx="782.6" cy="254.9" r="4.2" fill="#ff0000"/>
<circle cx="816.0" cy="243.0" r="4.2" fill="#ff0000"/>
<circle cx="849.4" cy="231.2" r="4.2" fill="#ff0000"/>
<circle cx="882.8" cy="219.3" r="4.2" fill="#ff0000"/>
<circle cx="916.2" cy="207.5" r="4.2" fill="#ff0000"/>
<path d="M244.3,385.8 L249.0,394.8 L239.6,394.8 Z" fill="#0000ff"/>
<path d="M277.7,379.3 L282.4,388.3 L273.0,388.3 Z" fill="#0000ff"/>
<path d="M311.1,372.8 L315.8,381.8 L306.4,381.8 Z" fill="#0000ff"/>
<path d="M344.5,366.4 L349.2,375.3 L339.8,375.3 Z" fill="#0000ff"/>
<path d="M377.9,359.9 L382.6,368.8 L373.2,368.8 Z" fill="#0000ff"/>
<path d="M411.3,353.4 L416.0,362.3 L406.6,362.3 Z" fill="#0000ff"/>
<path d="M444.7,346.9 L449.4,355.8 L440.0,355.8 Z" fill="#0000ff"/>
<path d="M478.1,340.4 L482.8,349.3 L473.4,349.3 Z" fill="#0000ff"/>
<path d="M511.5,333.9 L516.2,342.8 L506.8,342.8 Z" fill="#0000ff"/>
<path d="M544.7,327.3 L549.4,336.3 L540.0,336.3 Z" fill="#0000ff"/>
<path d="M550.1,326.3 L554.8,335.2 L545.4,335.2 Z" fill="#0000ff"/>
<path d="M555.7,324.9 L560.4,333.9 L551.0,333.9 Z" fill="#0000ff"/>
<path d="M561.1,323.9 L565.8,332.8 L556.4,332.8 Z" fill="#0000ff"/>
<path d="M566.8,322.5 L571.5,331.4 L562.1,331.4 Z" fill="#0000ff"/>
<path d="M572.3,320.4 L577.0,329.4 L567.6,329.4 Z" fill="#0000ff"/>
<path d="M582.8,319.4 L587.5,328.3 L578.1,328.3 Z" fill="#0000ff"/>
<path d="M588.5,318.4 L593.2,327.3 L583.8,327.3 Z" fill="#0000ff"/>
<path d="M593.9,317.1 L598.6,326.0 L589.2,326.0 Z" fill="#0000ff"/>
<path d="M599.6,316.4 L604.3,325.3 L594.9,325.3 Z" fill="#0000ff"/>
<path d="M605.0,315.5 L609.7,324.4 L600.3,324.4 Z" fill="#0000ff"/>
<path d="M610.6,313.7 L615.3,322.6 L605.9,322.6 Z" fill="#0000ff"/>
<path d="M616.2,312.9 L620.9,321.8 L611.5,321.8 Z" fill="#0000ff"/>
<path d="M617.3,311.4 L622.0,320.4 L612.6,320.4 Z" fill="#0000ff"/>
<path d="M627.3,309.8 L632.0,318.8 L622.6,318.8 Z" fill="#0000ff"/>
<path d="M638.6,307.9 L643.3,316.9 L633.9,316.9 Z" fill="#0000ff"/>
<path d="M649.6,305.6 L654.3,314.6 L644.9,314.6 Z" fill="#0000ff"/>
<path d="M661.0,303.2 L665.7,312.2 L656.3,312.2 Z" fill="#0000ff"/>
<path d="M671.8,301.3 L676.5,310.3 L667.1,310.3 Z" fill="#0000ff"/>
<path d="M682.7,298.1 L687.4,307.1 L678.0,307.1 Z" fill="#0000ff"/>
<path d="M693.5,296.6 L698.2,305.6 L688.8,305.6 Z" fill="#0000ff"/>
<path d="M715.8,292.1 L720.5,301.1 L711.1,301.1 Z" fill="#0000ff"/>
<path d="M749.2,286.0 L753.9,295.0 L744.5,295.0 Z" fill="#0000ff"/>
<path d="M782.7,279.9 L787.4,288.9 L778.0,288.9 Z" fill="#0000ff"/>
<path d="M816.1,272.9 L820.8,281.8 L811.4,281.8 Z" fill="#0000ff"/>
<path d="M849.5,265.8 L854.2,274.8 L844.8,274.8 Z" fill="#0000ff"/>
<path d="M882.9,258.8 L887.6,267.7 L878.2,267.7 Z" fill="#0000ff"/>
<path d="M916.3,251.7 L921.0,260.7 L911.6,260.7 Z" fill="#0000ff"/>
<path d="M244.3,386.2 L249.0,395.2 L239.6,395.2 Z" fill="#0000ff"/>
<path d="M277.7,379.7 L282.4,388.7 L273.0,388.7 Z" fill="#0000ff"/>
<path d="M311.1,373.2 L315.8,382.2 L306.4,382.2 Z" fill="#0000ff"/>
<path d="M344.5,366.8 L349.2,375.7 L339.8,375.7 Z" fill="#0000ff"/>
<path d="M377.9,360.3 L382.6,369.2 L373.2,369.2 Z" fill="#0000ff"/>
<path d="M411.3,353.8 L416.0,362.7 L406.6,362.7 Z" fill="#0000ff"/>
<path d="M444.7,347.3 L449.4,356.2 L440.0,356.2 Z" fill="#0000ff"/>
<path d="M478.1,340.8 L482.8,349.7 L473.4,349.7 Z" fill="#0000ff"/>
<path d="M511.5,334.3 L516.2,343.2 L506.8,343.2 Z" fill="#0000ff"/>
<path d="M544.7,327.9 L549.4,336.8 L540.0,336.8 Z" fill="#0000ff"/>
<path d="M550.1,326.6 L554.8,335.6 L545.4,335.6 Z" fill="#0000ff"/>
<path d="M555.7,325.5 L560.4,334.4 L551.0,334.4 Z" fill="#0000ff"/>
<path d="M561.1,324.7 L565.8,333.6 L556.4,333.6 Z" fill="#0000ff"/>
<path d="M566.8,323.5 L571.5,332.4 L562.1,332.4 Z" fill="#0000ff"/>
<path d="M572.3,322.3 L577.0,331.2 L567.6,331.2 Z" fill="#0000ff"/>
<path d="M577.9,321.1 L582.6,330.0 L573.2,330.0 Z" fill="#0000ff"/>
<path d="M584.9,319.4 L589.6,328.4 L580.2,328.4 Z" fill="#0000ff"/>
<path d="M587.2,319.0 L591.9,328.0 L582.5,328.0 Z" fill="#0000ff"/>
<path d="M589.4,318.7 L594.1,327.6 L584.7,327.6 Z" fill="#0000ff"/>
<path d="M593.9,318.1 L598.6,327.0 L589.2,327.0 Z" fill="#0000ff"/>
<path d="M596.1,317.2 L600.8,326.2 L591.4,326.2 Z" fill="#0000ff"/>
<path d="M598.3,316.9 L603.0,325.8 L593.6,325.8 Z" fill="#0000ff"/>
<path d="M600.3,316.7 L605.0,325.6 L595.6,325.6 Z" fill="#0000ff"/>
<path d="M602.9,316.1 L607.6,325.0 L598.2,325.0 Z" fill="#0000ff"/>
<path d="M605.0,315.8 L609.7,324.7 L600.3,324.7 Z" fill="#0000ff"/>
<path d="M607.3,315.0 L612.0,324.0 L602.6,324.0 Z" fill="#0000ff"/>
<path d="M611.7,314.2 L616.4,323.1 L607.0,323.1 Z" fill="#0000ff"/>
<path d="M613.8,313.7 L618.5,322.6 L609.1,322.6 Z" fill="#0000ff"/>
<path d="M616.2,313.4 L620.9,322.3 L611.5,322.3 Z" fill="#0000ff"/>
<path d="M617.3,311.8 L622.0,320.8 L612.6,320.8 Z" fill="#0000ff"/>
<path d="M627.3,310.2 L632.0,319.2 L622.6,319.2 Z" fill="#0000ff"/>
<path d="M638.6,308.3 L643.3,317.3 L633.9,317.3 Z" fill="#0000ff"/>
<path d="M649.6,306.0 L654.3,315.0 L644.9,315.0 Z" fill="#0000ff"/>
<path d="M661.0,303.6 L665.7,312.6 L656.3,312.6 Z" fill="#0000ff"/>
<path d="M671.8,301.7 L676.5,310.7 L667.1,310.7 Z" fill="#0000ff"/>
<path d="M682.7,298.5 L687.4,307.5 L678.0,307.5 Z" fill="#0000ff"/>
<path d="M693.5,297.0 L698.2,306.0 L688.8,306.0 Z" fill="#0000ff"/>
<path d="M715.8,292.5 L720.5,301.5 L711.1,301.5 Z" fill="#0000ff"/>
<path d="M749.2,286.4 L753.9,295.4 L744.5,295.4 Z" fill="#0000ff"/>
<path d="M782.7,280.3 L787.4,289.3 L778.0,289.3 Z" fill="#0000ff"/>
<path d="M816.1,273.3 L820.8,282.2 L811.4,282.2 Z" fill="#0000ff"/>
<path d="M849.5,266.2 L854.2,275.2 L844.8,275.2 Z" fill="#0000ff"/>
<path d="M882.9,259.2 L887.6,268.1 L878.2,268.1 Z" fill="#0000ff"/>
<path d="M916.3,252.1 L921.0,261.1 L911.6,261.1 Z" fill="#0000ff"/>
<defs><clipPath id="ic"><rect x="672.7" y="342.9" width="322.8" height="248.6"/></clipPath></defs>
<line x1="833.3" y1="342.9" x2="833.3" y2="591.5" stroke="#333" stroke-width="1.1"/>
<line x1="672.7" y1="442.2" x2="995.5" y2="442.2" stroke="#333" stroke-width="1.1"/>
<line x1="680.0" y1="591.5" x2="680.0" y2="596.5" stroke="#222" stroke-width="1"/>
<line x1="680.0" y1="342.9" x2="680.0" y2="347.9" stroke="#222" stroke-width="1"/>
<line x1="699.1" y1="591.5" x2="699.1" y2="594.5" stroke="#222" stroke-width="1"/>
<line x1="699.1" y1="342.9" x2="699.1" y2="345.9" stroke="#222" stroke-width="1"/>
<line x1="718.3" y1="591.5" x2="718.3" y2="596.5" stroke="#222" stroke-width="1"/>
<line x1="718.3" y1="342.9" x2="718.3" y2="347.9" stroke="#222" stroke-width="1"/>
<line x1="737.5" y1="591.5" x2="737.5" y2="594.5" stroke="#222" stroke-width="1"/>
<line x1="737.5" y1="342.9" x2="737.5" y2="345.9" stroke="#222" stroke-width="1"/>
<line x1="756.6" y1="591.5" x2="756.6" y2="596.5" stroke="#222" stroke-width="1"/>
<line x1="756.6" y1="342.9" x2="756.6" y2="347.9" stroke="#222" stroke-width="1"/>
<line x1="775.8" y1="591.5" x2="775.8" y2="594.5" stroke="#222" stroke-width="1"/>
<line x1="775.8" y1="342.9" x2="775.8" y2="345.9" stroke="#222" stroke-width="1"/>
<line x1="795.0" y1="591.5" x2="795.0" y2="596.5" stroke="#222" stroke-width="1"/>
<line x1="795.0" y1="342.9" x2="795.0" y2="347.9" stroke="#222" stroke-width="1"/>
<line x1="814.1" y1="591.5" x2="814.1" y2="594.5" stroke="#222" stroke-width="1"/>
<line x1="814.1" y1="342.9" x2="814.1" y2="345.9" stroke="#222" stroke-width="1"/>
<line x1="833.3" y1="591.5" x2="833.3" y2="596.5" stroke="#222" stroke-width="1"/>
<line x1="833.3" y1="342.9" x2="833.3" y2="347.9" stroke="#222" stroke-width="1"/>
<line x1="852.5" y1="591.5" x2="852.5" y2="594.5" stroke="#222" stroke-width="1"/>
<line x1="852.5" y1="342.9" x2="852.5" y2="345.9" stroke="#222" stroke-width="1"/>
<line x1="871.6" y1="591.5" x2="871.6" y2="596.5" stroke="#222" stroke-width="1"/>
<line x1="871.6" y1="342.9" x2="871.6" y2="347.9" stroke="#222" stroke-width="1"/>
<line x1="890.8" y1="591.5" x2="890.8" y2="594.5" stroke="#222" stroke-width="1"/>
<line x1="890.8" y1="342.9" x2="890.8" y2="345.9" stroke="#222" stroke-width="1"/>
<line x1="910.0" y1="591.5" x2="910.0" y2="596.5" stroke="#222" stroke-width="1"/>
<line x1="910.0" y1="342.9" x2="910.0" y2="347.9" stroke="#222" stroke-width="1"/>
<line x1="929.1" y1="591.5" x2="929.1" y2="594.5" stroke="#222" stroke-width="1"/>
<line x1="929.1" y1="342.9" x2="929.1" y2="345.9" stroke="#222" stroke-width="1"/>
<line x1="948.3" y1="591.5" x2="948.3" y2="596.5" stroke="#222" stroke-width="1"/>
<line x1="948.3" y1="342.9" x2="948.3" y2="347.9" stroke="#222" stroke-width="1"/>
<line x1="967.5" y1="591.5" x2="967.5" y2="594.5" stroke="#222" stroke-width="1"/>
<line x1="967.5" y1="342.9" x2="967.5" y2="345.9" stroke="#222" stroke-width="1"/>
<line x1="986.6" y1="591.5" x2="986.6" y2="596.5" stroke="#222" stroke-width="1"/>
<line x1="986.6" y1="342.9" x2="986.6" y2="347.9" stroke="#222" stroke-width="1"/>
<line x1="672.7" y1="581.5" x2="669.7" y2="581.5" stroke="#222" stroke-width="1"/>
<line x1="995.5" y1="581.5" x2="992.5" y2="581.5" stroke="#222" stroke-width="1"/>
<line x1="672.7" y1="561.6" x2="667.7" y2="561.6" stroke="#222" stroke-width="1"/>
<line x1="995.5" y1="561.6" x2="990.5" y2="561.6" stroke="#222" stroke-width="1"/>
<line x1="672.7" y1="541.7" x2="669.7" y2="541.7" stroke="#222" stroke-width="1"/>
<line x1="995.5" y1="541.7" x2="992.5" y2="541.7" stroke="#222" stroke-width="1"/>
<line x1="672.7" y1="521.8" x2="667.7" y2="521.8" stroke="#222" stroke-width="1"/>
<line x1="995.5" y1="521.8" x2="990.5" y2="521.8" stroke="#222" stroke-width="1"/>
<line x1="672.7" y1="501.9" x2="669.7" y2="501.9" stroke="#222" stroke-width="1"/>
<line x1="995.5" y1="501.9" x2="992.5" y2="501.9" stroke="#222" stroke-width="1"/>
<line x1="672.7" y1="482.0" x2="667.7" y2="482.0" stroke="#222" stroke-width="1"/>
<line x1="995.5" y1="482.0" x2="990.5" y2="482.0" stroke="#222" stroke-width="1"/>
<line x1="672.7" y1="462.1" x2="669.7" y2="462.1" stroke="#222" stroke-width="1"/>
<line x1="995.5" y1="462.1" x2="992.5" y2="462.1" stroke="#222" stroke-width="1"/>
<line x1="672.7" y1="442.2" x2="667.7" y2="442.2" stroke="#222" stroke-width="1"/>
<line x1="995.5" y1="442.2" x2="990.5" y2="442.2" stroke="#222" stroke-width="1"/>
<line x1="672.7" y1="422.3" x2="669.7" y2="422.3" stroke="#222" stroke-width="1"/>
<line x1="995.5" y1="422.3" x2="992.5" y2="422.3" stroke="#222" stroke-width="1"/>
<line x1="672.7" y1="402.4" x2="667.7" y2="402.4" stroke="#222" stroke-width="1"/>
<line x1="995.5" y1="402.4" x2="990.5" y2="402.4" stroke="#222" stroke-width="1"/>
<line x1="672.7" y1="382.5" x2="669.7" y2="382.5" stroke="#222" stroke-width="1"/>
<line x1="995.5" y1="382.5" x2="992.5" y2="382.5" stroke="#222" stroke-width="1"/>
<line x1="672.7" y1="362.6" x2="667.7" y2="362.6" stroke="#222" stroke-width="1"/>
<line x1="995.5" y1="362.6" x2="990.5" y2="362.6" stroke="#222" stroke-width="1"/>
<line x1="672.7" y1="342.7" x2="669.7" y2="342.7" stroke="#222" stroke-width="1"/>
<line x1="995.5" y1="342.7" x2="992.5" y2="342.7" stroke="#222" stroke-width="1"/>
<rect x="672.7" y="342.9" width="322.8" height="248.6" fill="none" stroke="#222" stroke-width="1.2"/>
<text x="665" y="565.7" font-family="Liberation Sans, sans-serif" font-size="11.8" text-anchor="end" fill="#111">-0.00006</text>
<text x="665" y="525.9" font-family="Liberation Sans, sans-serif" font-size="11.8" text-anchor="end" fill="#111">-0.00004</text>
<text x="665" y="486.1" font-family="Liberation Sans, sans-serif" font-size="11.8" text-anchor="end" fill="#111">-0.00002</text>
<text x="665" y="446.3" font-family="Liberation Sans, sans-serif" font-size="11.8" text-anchor="end" fill="#111">0.00000</text>
<text x="665" y="406.5" font-family="Liberation Sans, sans-serif" font-size="11.8" text-anchor="end" fill="#111">0.00002</text>
<text x="665" y="366.7" font-family="Liberation Sans, sans-serif" font-size="11.8" text-anchor="end" fill="#111">0.00004</text>
<text x="680.0" y="610.6" font-family="Liberation Sans, sans-serif" font-size="13.3" text-anchor="middle" fill="#111">-400</text>
<text x="718.3" y="610.6" font-family="Liberation Sans, sans-serif" font-size="13.3" text-anchor="middle" fill="#111">-300</text>
<text x="756.6" y="610.6" font-family="Liberation Sans, sans-serif" font-size="13.3" text-anchor="middle" fill="#111">-200</text>
<text x="795.0" y="610.6" font-family="Liberation Sans, sans-serif" font-size="13.3" text-anchor="middle" fill="#111">-100</text>
<text x="833.3" y="610.6" font-family="Liberation Sans, sans-serif" font-size="13.3" text-anchor="middle" fill="#111">0</text>
<text x="871.6" y="610.6" font-family="Liberation Sans, sans-serif" font-size="13.3" text-anchor="middle" fill="#111">100</text>
<text x="910.0" y="610.6" font-family="Liberation Sans, sans-serif" font-size="13.3" text-anchor="middle" fill="#111">200</text>
<text x="948.3" y="610.6" font-family="Liberation Sans, sans-serif" font-size="13.3" text-anchor="middle" fill="#111">300</text>
<text x="986.6" y="610.6" font-family="Liberation Sans, sans-serif" font-size="13.3" text-anchor="middle" fill="#111">400</text>
<text x="804.6" y="638.6" font-family="Liberation Sans, sans-serif" font-size="19.6" fill="#111">H (Oe)</text>
<text transform="translate(608.6,500.3) rotate(-90)" font-family="Liberation Sans, sans-serif" font-size="19.6" fill="#111">M (emu)</text>
<g clip-path="url(#ic)">
<polyline points="676.0,591.5 683.8,579.5 704.9,553.6 722.1,527.8 741.3,501.9 761.0,475.6 800.2,421.4 846.7,380.8 865.8,370.7 885.0,354.8 896.7,343.0" fill="none" stroke="#333" stroke-width="0.9" stroke-linejoin="round"/>
<polyline points="734.0,591.5 743.2,581.7 762.4,561.9 781.3,543.6 799.5,530.0 818.9,525.1 861.3,482.2 869.3,477.4 877.0,468.3 884.7,457.8 892.4,440.4 900.7,432.7 907.8,426.3 915.3,412.8 923.5,404.6 931.4,389.0 939.1,379.4 946.5,370.5 954.4,360.8 962.1,350.1 964.5,343.0" fill="none" stroke="#333" stroke-width="0.9" stroke-linejoin="round"/>
<polyline points="833.0,424.4 853.5,482.2 866.3,477.4 885.3,444.3 905.2,418.0 924.2,393.8 943.2,367.0 960.0,343.0" fill="none" stroke="#333" stroke-width="0.9" stroke-linejoin="round"/>
<polyline points="672.7,522.1 709.4,494.0" fill="none" stroke="#f03030" stroke-width="0.9" stroke-linejoin="round"/>
<polyline points="672.7,528.1 709.4,516.0" fill="none" stroke="#f03030" stroke-width="0.9" stroke-linejoin="round"/>
<polyline points="709.4,494.0 709.4,516.0" fill="none" stroke="#f03030" stroke-width="0.9" stroke-linejoin="round"/>
<polyline points="709.4,503.2 728.0,491.9 747.3,479.8 766.2,469.0 785.9,457.1 804.9,440.4 841.0,427.7 860.3,421.2 879.6,412.6 899.3,400.9 917.8,391.7 937.6,379.4 956.9,369.7 995.5,348.9" fill="none" stroke="#f03030" stroke-width="0.9" stroke-linejoin="round"/>
<polyline points="709.4,516.0 728.0,505.4 747.3,495.7 766.5,485.1 785.9,474.1 804.9,464.6 824.2,458.3 833.0,453.3 848.7,448.5 856.5,443.6 864.2,438.3 871.9,434.0 887.1,424.7 895.0,418.0 899.5,415.4 903.3,414.8 910.4,411.3 918.7,405.1 926.2,401.2 933.6,396.5 941.3,391.7 948.7,387.2 956.9,383.1 956.9,377.1 995.5,357.8" fill="none" stroke="#f03030" stroke-width="0.9" stroke-linejoin="round"/>
<polyline points="956.9,383.1 995.5,362.3" fill="none" stroke="#f03030" stroke-width="0.9" stroke-linejoin="round"/>
<polyline points="672.7,493.0 709.4,480.8 728.0,475.2 747.3,467.6 766.2,461.8 785.9,454.1 804.9,442.7 841.2,436.9 860.9,431.5 879.6,424.1 899.5,420.5 918.1,415.4 937.6,405.4 956.9,400.9 995.5,388.0" fill="none" stroke="#2020f0" stroke-width="0.9" stroke-linejoin="round"/>
<polyline points="672.7,495.7 709.4,484.0 728.0,477.0 747.3,470.6 766.2,466.4 785.9,459.7 804.9,453.0 824.2,446.5 848.7,437.2 856.5,434.9 864.2,433.1 879.6,429.8 887.3,425.0 895.0,423.1 902.0,421.8 910.8,418.6 918.3,417.0 926.2,412.8 941.3,408.3 948.7,405.4 956.9,403.9 995.5,391.3" fill="none" stroke="#2020f0" stroke-width="0.9" stroke-linejoin="round"/>
<rect x="680.8" y="576.5" width="6.0" height="6.0" fill="#000"/>
<rect x="701.9" y="550.6" width="6.0" height="6.0" fill="#000"/>
<rect x="719.1" y="524.8" width="6.0" height="6.0" fill="#000"/>
<rect x="738.3" y="498.9" width="6.0" height="6.0" fill="#000"/>
<rect x="758.0" y="472.6" width="6.0" height="6.0" fill="#000"/>
<rect x="797.2" y="418.4" width="6.0" height="6.0" fill="#000"/>
<rect x="843.7" y="377.8" width="6.0" height="6.0" fill="#000"/>
<rect x="862.8" y="367.7" width="6.0" height="6.0" fill="#000"/>
<rect x="882.0" y="351.8" width="6.0" height="6.0" fill="#000"/>
<rect x="740.2" y="578.7" width="6.0" height="6.0" fill="#000"/>
<rect x="759.4" y="558.9" width="6.0" height="6.0" fill="#000"/>
<rect x="778.3" y="540.6" width="6.0" height="6.0" fill="#000"/>
<rect x="796.5" y="527.0" width="6.0" height="6.0" fill="#000"/>
<rect x="815.9" y="522.1" width="6.0" height="6.0" fill="#000"/>
<rect x="858.3" y="479.2" width="6.0" height="6.0" fill="#000"/>
<rect x="866.3" y="474.4" width="6.0" height="6.0" fill="#000"/>
<rect x="874.0" y="465.3" width="6.0" height="6.0" fill="#000"/>
<rect x="881.7" y="454.8" width="6.0" height="6.0" fill="#000"/>
<rect x="889.4" y="437.4" width="6.0" height="6.0" fill="#000"/>
<rect x="897.7" y="429.7" width="6.0" height="6.0" fill="#000"/>
<rect x="904.8" y="423.3" width="6.0" height="6.0" fill="#000"/>
<rect x="912.3" y="409.8" width="6.0" height="6.0" fill="#000"/>
<rect x="920.5" y="401.6" width="6.0" height="6.0" fill="#000"/>
<rect x="928.4" y="386.0" width="6.0" height="6.0" fill="#000"/>
<rect x="936.1" y="376.4" width="6.0" height="6.0" fill="#000"/>
<rect x="943.5" y="367.5" width="6.0" height="6.0" fill="#000"/>
<rect x="951.4" y="357.8" width="6.0" height="6.0" fill="#000"/>
<rect x="959.1" y="347.1" width="6.0" height="6.0" fill="#000"/>
<rect x="961.5" y="340.0" width="6.0" height="6.0" fill="#000"/>
<rect x="830.0" y="421.4" width="6.0" height="6.0" fill="#000"/>
<rect x="850.5" y="479.2" width="6.0" height="6.0" fill="#000"/>
<rect x="863.3" y="474.4" width="6.0" height="6.0" fill="#000"/>
<rect x="882.3" y="441.3" width="6.0" height="6.0" fill="#000"/>
<rect x="902.2" y="415.0" width="6.0" height="6.0" fill="#000"/>
<rect x="921.2" y="390.8" width="6.0" height="6.0" fill="#000"/>
<rect x="940.2" y="364.0" width="6.0" height="6.0" fill="#000"/>
<rect x="957.0" y="340.0" width="6.0" height="6.0" fill="#000"/>
<circle cx="709.4" cy="503.2" r="3.4" fill="#ff0000"/>
<circle cx="728.0" cy="491.9" r="3.4" fill="#ff0000"/>
<circle cx="747.3" cy="479.8" r="3.4" fill="#ff0000"/>
<circle cx="766.2" cy="469.0" r="3.4" fill="#ff0000"/>
<circle cx="785.9" cy="457.1" r="3.4" fill="#ff0000"/>
<circle cx="804.9" cy="440.4" r="3.4" fill="#ff0000"/>
<circle cx="841.0" cy="427.7" r="3.4" fill="#ff0000"/>
<circle cx="860.3" cy="421.2" r="3.4" fill="#ff0000"/>
<circle cx="879.6" cy="412.6" r="3.4" fill="#ff0000"/>
<circle cx="899.3" cy="400.9" r="3.4" fill="#ff0000"/>
<circle cx="917.8" cy="391.7" r="3.4" fill="#ff0000"/>
<circle cx="937.6" cy="379.4" r="3.4" fill="#ff0000"/>
<circle cx="956.9" cy="369.7" r="3.4" fill="#ff0000"/>
<circle cx="709.4" cy="516.0" r="3.4" fill="#ff0000"/>
<circle cx="728.0" cy="505.4" r="3.4" fill="#ff0000"/>
<circle cx="747.3" cy="495.7" r="3.4" fill="#ff0000"/>
<circle cx="766.5" cy="485.1" r="3.4" fill="#ff0000"/>
<circle cx="785.9" cy="474.1" r="3.4" fill="#ff0000"/>
<circle cx="804.9" cy="464.6" r="3.4" fill="#ff0000"/>
<circle cx="824.2" cy="458.3" r="3.4" fill="#ff0000"/>
<circle cx="833.0" cy="453.3" r="3.4" fill="#ff0000"/>
<circle cx="848.7" cy="448.5" r="3.4" fill="#ff0000"/>
<circle cx="856.5" cy="443.6" r="3.4" fill="#ff0000"/>
<circle cx="864.2" cy="438.3" r="3.4" fill="#ff0000"/>
<circle cx="871.9" cy="434.0" r="3.4" fill="#ff0000"/>
<circle cx="887.1" cy="424.7" r="3.4" fill="#ff0000"/>
<circle cx="895.0" cy="418.0" r="3.4" fill="#ff0000"/>
<circle cx="899.5" cy="415.4" r="3.4" fill="#ff0000"/>
<circle cx="903.3" cy="414.8" r="3.4" fill="#ff0000"/>
<circle cx="910.4" cy="411.3" r="3.4" fill="#ff0000"/>
<circle cx="918.7" cy="405.1" r="3.4" fill="#ff0000"/>
<circle cx="926.2" cy="401.2" r="3.4" fill="#ff0000"/>
<circle cx="933.6" cy="396.5" r="3.4" fill="#ff0000"/>
<circle cx="941.3" cy="391.7" r="3.4" fill="#ff0000"/>
<circle cx="948.7" cy="387.2" r="3.4" fill="#ff0000"/>
<circle cx="956.9" cy="383.1" r="3.4" fill="#ff0000"/>
<circle cx="956.9" cy="377.1" r="3.4" fill="#ff0000"/>
<circle cx="994.5" cy="359.6" r="3.4" fill="#ff0000"/>
<circle cx="709.4" cy="508.4" r="3.4" fill="#ff0000"/>
<circle cx="709.4" cy="494.0" r="3.4" fill="#ff0000"/>
<path d="M709.4,476.6 L713.1,483.6 L705.7,483.6 Z" fill="#0000ff"/>
<path d="M728.0,471.0 L731.7,478.0 L724.3,478.0 Z" fill="#0000ff"/>
<path d="M747.3,463.4 L751.0,470.4 L743.6,470.4 Z" fill="#0000ff"/>
<path d="M766.2,457.6 L769.9,464.6 L762.5,464.6 Z" fill="#0000ff"/>
<path d="M785.9,449.9 L789.6,456.9 L782.2,456.9 Z" fill="#0000ff"/>
<path d="M804.9,438.5 L808.6,445.5 L801.2,445.5 Z" fill="#0000ff"/>
<path d="M841.2,432.7 L844.9,439.7 L837.5,439.7 Z" fill="#0000ff"/>
<path d="M860.9,427.3 L864.6,434.3 L857.2,434.3 Z" fill="#0000ff"/>
<path d="M879.6,419.9 L883.3,426.9 L875.9,426.9 Z" fill="#0000ff"/>
<path d="M899.5,416.3 L903.2,423.3 L895.8,423.3 Z" fill="#0000ff"/>
<path d="M918.1,411.2 L921.8,418.2 L914.4,418.2 Z" fill="#0000ff"/>
<path d="M937.6,401.2 L941.3,408.2 L933.9,408.2 Z" fill="#0000ff"/>
<path d="M956.9,396.7 L960.6,403.7 L953.2,403.7 Z" fill="#0000ff"/>
<path d="M709.4,479.8 L713.1,486.8 L705.7,486.8 Z" fill="#0000ff"/>
<path d="M728.0,472.8 L731.7,479.8 L724.3,479.8 Z" fill="#0000ff"/>
<path d="M747.3,466.4 L751.0,473.4 L743.6,473.4 Z" fill="#0000ff"/>
<path d="M766.2,462.2 L769.9,469.2 L762.5,469.2 Z" fill="#0000ff"/>
<path d="M785.9,455.5 L789.6,462.5 L782.2,462.5 Z" fill="#0000ff"/>
<path d="M804.9,448.8 L808.6,455.8 L801.2,455.8 Z" fill="#0000ff"/>
<path d="M824.2,442.3 L827.9,449.3 L820.5,449.3 Z" fill="#0000ff"/>
<path d="M848.7,433.0 L852.4,440.0 L845.0,440.0 Z" fill="#0000ff"/>
<path d="M856.5,430.7 L860.2,437.7 L852.8,437.7 Z" fill="#0000ff"/>
<path d="M864.2,428.9 L867.9,435.9 L860.5,435.9 Z" fill="#0000ff"/>
<path d="M879.6,425.6 L883.3,432.6 L875.9,432.6 Z" fill="#0000ff"/>
<path d="M887.3,420.8 L891.0,427.8 L883.6,427.8 Z" fill="#0000ff"/>
<path d="M895.0,418.9 L898.7,425.9 L891.3,425.9 Z" fill="#0000ff"/>
<path d="M902.0,417.6 L905.7,424.6 L898.3,424.6 Z" fill="#0000ff"/>
<path d="M910.8,414.4 L914.5,421.4 L907.1,421.4 Z" fill="#0000ff"/>
<path d="M918.3,412.8 L922.0,419.8 L914.6,419.8 Z" fill="#0000ff"/>
<path d="M926.2,408.6 L929.9,415.6 L922.5,415.6 Z" fill="#0000ff"/>
<path d="M941.3,404.1 L945.0,411.1 L937.6,411.1 Z" fill="#0000ff"/>
<path d="M948.7,401.2 L952.4,408.2 L945.0,408.2 Z" fill="#0000ff"/>
<path d="M956.9,399.7 L960.6,406.7 L953.2,406.7 Z" fill="#0000ff"/>
<path d="M994.5,387.1 L998.2,394.1 L990.8,394.1 Z" fill="#0000ff"/>
<path d="M860.9,435.6 L864.6,442.6 L857.2,442.6 Z" fill="#0000ff"/>
<path d="M864.2,428.9 L867.9,435.9 L860.5,435.9 Z" fill="#0000ff"/>
<path d="M825.6,443.3 L829.3,450.3 L821.9,450.3 Z" fill="#0000ff"/>
<path d="M917.5,410.8 L921.2,417.8 L913.8,417.8 Z" fill="#0000ff"/>
</g>
<rect x="677.7" y="349.7" width="60" height="46.2" fill="#fff" stroke="#999" stroke-width="1.1"/>
<line x1="684.6" y1="359.2" x2="710.1" y2="359.2" stroke="#666" stroke-width="1"/>
<line x1="684.6" y1="374" x2="710.1" y2="374" stroke="#f06060" stroke-width="1"/>
<line x1="684.6" y1="388.6" x2="710.1" y2="388.6" stroke="#6060f0" stroke-width="1"/>
<rect x="694.9" y="356.5" width="5.4" height="5.4" fill="#000"/>
<circle cx="697.6" cy="374.0" r="3.0" fill="#ff0000"/>
<path d="M697.6,384.7 L701.0,391.2 L694.2,391.2 Z" fill="#0000ff"/>
<text x="713.5" y="363.2" font-family="Liberation Sans, sans-serif" font-size="11.8" fill="#111">5K</text>
<text x="714" y="377.9" font-family="Liberation Sans, sans-serif" font-size="11.8" fill="#111">15K</text>
<text x="713.5" y="392.6" font-family="Liberation Sans, sans-serif" font-size="11.8" fill="#111">30K</text>
</svg></body></html>
